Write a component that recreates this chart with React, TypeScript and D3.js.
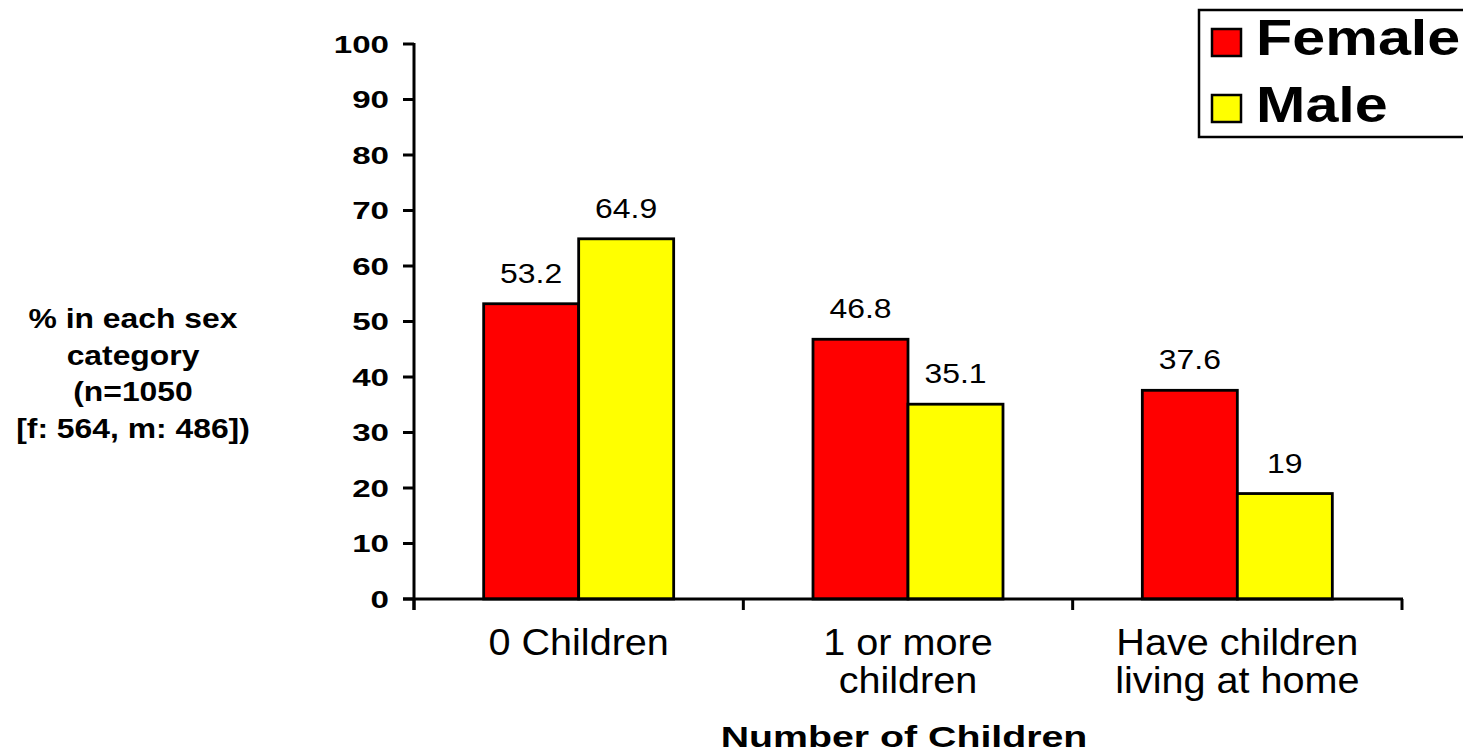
import React from "react";
import * as d3 from "d3";

const categories = ["0 Children", "1 or more children", "Have children living at home"];
const categoryLines = [["0 Children"], ["1 or more", "children"], ["Have children", "living at home"]];
const series = ["Female", "Male"];
const femaleValues = [53.2, 46.8, 37.6];
const maleValues = [64.9, 35.1, 19];
const valueLabels = [["53.2", "64.9"], ["46.8", "35.1"], ["37.6", "19"]];
const yTicks = [0, 10, 20, 30, 40, 50, 60, 70, 80, 90, 100];
const yLabelLines = ["% in each sex", "category", "(n=1050", "[f: 564, m: 486])"];
const xTitle = "Number of Children";
const colors = ["#FF0000", "#FFFF00"];

const FONT = "'Liberation Sans', Arial, Helvetica, sans-serif";

function T({ x, y, sx = 1, anchor = "start", size, bold = false, children }: any) {
  return (
    <text
      transform={`translate(${x},${y}) scale(${sx},1)`}
      textAnchor={anchor}
      fontSize={size}
      fontWeight={bold ? "bold" : "normal"}
      fontFamily={FONT}
      fill="#000"
    >
      {children}
    </text>
  );
}

export default function App() {
  const W = 1463;
  const H = 755;
  const x0 = d3.scaleBand<string>().domain(categories).range([414, 1402]).padding(0);
  const bw = x0.bandwidth();
  const x1 = d3.scaleBand<string>().domain(series).range([bw / 2 - 95, bw / 2 + 95]).padding(0);
  const y = d3.scaleLinear().domain([0, 100]).range([599, 44]);
  const seriesValues = [femaleValues, maleValues];
  const catTicks = [...categories.map((c) => x0(c) as number), 1402];

  return (
    <svg width={W} height={H} style={{ position: "absolute", left: 0, top: 0, background: "#fff" }}>
      <rect x={0} y={0} width={W} height={H} fill="#fff" />
      {/* bars */}
      {categories.map((c, i) => (
        <g key={c}>
          {series.map((s, j) => {
            const v = seriesValues[j][i];
            const bx = (x0(c) as number) + (x1(s) as number);
            return (
              <rect
                key={s}
                x={bx}
                y={y(v)}
                width={x1.bandwidth()}
                height={y(0) - y(v)}
                fill={colors[j]}
                stroke="#000"
                strokeWidth={2.8}
              />
            );
          })}
          {series.map((s, j) => {
            const v = seriesValues[j][i];
            const cx = (x0(c) as number) + (x1(s) as number) + x1.bandwidth() / 2;
            return (
              <T key={s} x={cx} y={y(v) - 21} sx={1.12} anchor="middle" size={28.5}>
                {valueLabels[i][j]}
              </T>
            );
          })}
        </g>
      ))}
      {/* y axis */}
      <line x1={414} x2={414} y1={y(100) - 1} y2={610} stroke="#000" strokeWidth={3} />
      {yTicks.map((t) => (
        <g key={t}>
          <line x1={403} x2={414} y1={y(t)} y2={y(t)} stroke="#000" strokeWidth={3} />
          <T x={389} y={y(t) + 8.5} sx={1.38} anchor="end" size={24} bold>
            {String(t)}
          </T>
        </g>
      ))}
      {/* x axis */}
      <line x1={403} x2={1403} y1={y(0)} y2={y(0)} stroke="#000" strokeWidth={3} />
      {catTicks.map((cx, i) => (
        <line key={i} x1={cx} x2={cx} y1={y(0)} y2={610} stroke="#000" strokeWidth={3} />
      ))}
      {categories.map((c, i) =>
        categoryLines[i].map((ln, k) => (
          <T key={c + k} x={(x0(c) as number) + bw / 2} y={655 + k * 38} sx={1.07} anchor="middle" size={37}>
            {ln}
          </T>
        ))
      )}
      <T x={904} y={747} sx={1.31} anchor="middle" size={30} bold>
        {xTitle}
      </T>
      {yLabelLines.map((ln, k) => (
        <T key={k} x={133} y={328 + k * 36.7} sx={1.18} anchor="middle" size={27} bold>
          {ln}
        </T>
      ))}
      {/* legend */}
      <rect x={1199} y={10} width={280} height={127} fill="#fff" stroke="#000" strokeWidth={2.5} />
      {series.map((s, j) => (
        <g key={s}>
          <rect x={1212} y={j === 0 ? 29 : 95} width={29} height={27} fill={colors[j]} stroke="#000" strokeWidth={2.5} />
          <T x={1256} y={j === 0 ? 55 : 122} sx={1.21} size={49} bold>
            {s}
          </T>
        </g>
      ))}
    </svg>
  );
}
